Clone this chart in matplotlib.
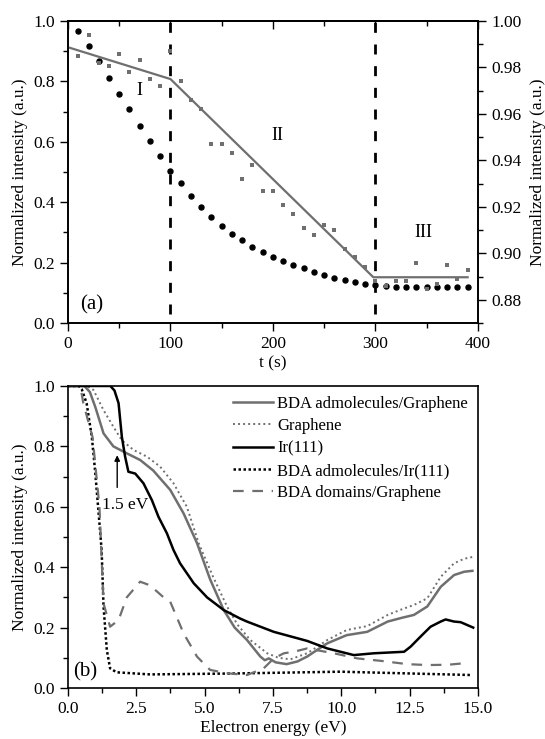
import numpy as np
import matplotlib
matplotlib.use("Agg")
import matplotlib.pyplot as plt
from matplotlib.ticker import MultipleLocator, FormatStrFormatter, NullFormatter

plt.rcParams['font.family'] = ['Liberation Serif', 'DejaVu Serif']
plt.rcParams['font.size'] = 12.5

# ---- panel (a) data ----
t_pts = [10, 20, 30, 40, 50, 60, 70, 80, 90, 100, 110, 120, 130, 140, 150, 160, 170, 180, 190,
         200, 210, 220, 230, 240, 250, 260, 270, 280, 290, 300, 310, 320, 330, 340, 350, 360,
         370, 380, 390]
circles = [0.968, 0.918, 0.866, 0.811, 0.759, 0.708, 0.653, 0.603, 0.553, 0.504, 0.463, 0.420,
           0.384, 0.350, 0.320, 0.295, 0.274, 0.252, 0.235, 0.220, 0.205, 0.191, 0.181, 0.169,
           0.159, 0.150, 0.141, 0.136, 0.129, 0.125, 0.121, 0.120, 0.120, 0.118, 0.118, 0.120,
           0.120, 0.120, 0.120]
squares = [0.985, 0.994, 0.982, 0.9805, 0.986, 0.978, 0.983, 0.975, 0.972, 0.987, 0.974, 0.966,
           0.962, 0.947, 0.947, 0.943, 0.932, 0.938, 0.927, 0.927, 0.921, 0.917, 0.911, 0.908,
           0.912, 0.910, 0.902, 0.8985, 0.894, 0.888, 0.886, 0.888, 0.888, 0.896, 0.8845, 0.887,
           0.895, 0.889, 0.893]
fit_t = [0, 100, 298, 390]
fit_v = [0.9887, 0.975, 0.8897, 0.8897]

# ---- panel (b) data ----
bda_gr_e = [0, 0.6, 0.8, 1.0, 1.3, 1.66, 2.15, 2.64, 3.12, 3.74, 4.23, 4.72, 5.2, 5.7, 6.1, 6.55,
            7.04, 7.2, 7.35, 7.6, 8.0, 8.4, 8.75, 9.1, 9.49, 10.2, 10.95, 11.7, 12.2, 12.66, 13.15,
            13.64, 14.13, 14.5, 14.8]
bda_gr_v = [1.0, 1.0, 0.98, 0.93, 0.843, 0.80, 0.777, 0.755, 0.72, 0.656, 0.578, 0.48, 0.36, 0.258,
            0.20, 0.159, 0.104, 0.092, 0.098, 0.085, 0.079, 0.088, 0.104, 0.125, 0.148, 0.175,
            0.186, 0.22, 0.232, 0.242, 0.27, 0.335, 0.374, 0.385, 0.388]
gr_e = [0, 0.7, 0.93, 1.3, 1.66, 1.97, 2.4, 2.89, 3.37, 3.86, 4.35, 4.78, 5.3, 5.82, 6.2, 6.67, 7.29,
        7.7, 8.14, 8.75, 9.1, 9.49, 10.2, 10.95, 11.7, 12.2, 12.66, 13.15, 13.64, 14.13, 14.5, 14.86]
gr_v = [1.0, 1.0, 0.987, 0.92, 0.865, 0.82, 0.788, 0.766, 0.733, 0.678, 0.60, 0.48, 0.37, 0.27,
        0.21, 0.159, 0.115, 0.10, 0.095, 0.115, 0.135, 0.159, 0.192, 0.205, 0.242, 0.26, 0.275,
        0.297, 0.368, 0.413, 0.428, 0.435]
ir_e = [0, 1.55, 1.7, 1.85, 1.97, 2.09, 2.21, 2.46, 2.76, 3.07, 3.31, 3.62, 3.86, 4.1, 4.6, 5.09,
        5.7, 6.3, 6.55, 7.53, 8.75, 9.49, 10.46, 11.2, 12.3, 12.54, 12.9, 13.27, 13.64, 13.82,
        14.13, 14.37, 14.83]
ir_v = [1.0, 1.0, 0.985, 0.943, 0.832, 0.766, 0.716, 0.71, 0.678, 0.622, 0.567, 0.512, 0.457,
        0.413, 0.347, 0.30, 0.258, 0.23, 0.22, 0.186, 0.156, 0.131, 0.109, 0.115, 0.12, 0.137,
        0.17, 0.203, 0.22, 0.227, 0.22, 0.218, 0.20]
bda_ir_e = [0, 0.4, 0.5, 0.68, 0.87, 0.99, 1.11, 1.23, 1.3, 1.42, 1.54, 1.78, 3.0, 6.0, 9.97, 14.74]
bda_ir_v = [1.0, 1.0, 0.99, 0.943, 0.832, 0.72, 0.59, 0.457, 0.27, 0.126, 0.065, 0.052, 0.045,
            0.048, 0.054, 0.043]
dom_e = [0, 0.45, 0.56, 0.9, 1.15, 1.3, 1.54, 1.85, 2.15, 2.64, 3.0, 3.5, 3.74, 4.23, 4.72, 5.2, 5.8,
         6.55, 7.16, 7.53, 7.9, 8.26, 8.75, 9.73, 10.59, 11.44, 12.42, 13.15, 13.9, 14.5]
dom_v = [1.0, 1.0, 0.943, 0.83, 0.6, 0.28, 0.203, 0.225, 0.30, 0.352, 0.34, 0.30, 0.286, 0.181,
         0.104, 0.06, 0.049, 0.043, 0.065, 0.098, 0.115, 0.12, 0.131, 0.115, 0.098, 0.09, 0.079,
         0.076, 0.077, 0.082]

GRAY = '#6f6f6f'

fig = plt.figure(figsize=(5.45, 7.39), dpi=100)
ax = fig.add_axes([0.1248, 0.5629, 0.752, 0.4087])
ax2 = ax.twinx()

# (a)
ax.plot(t_pts, circles, 'o', color='black', markersize=3.6, zorder=3)
ax2.plot(t_pts, squares, 's', color=GRAY, markersize=3.4, markeredgewidth=0)
ax2.plot(fit_t, fit_v, '-', color=GRAY, linewidth=1.6)
for tv in (100, 300):
    ax.axvline(tv, ymin=0.03, ymax=1.0, color='black', linewidth=2,
               linestyle=(0, (3.6, 4.2)))
ax.text(70, 0.77, 'I', ha='center', va='center', fontsize=13)
ax.text(204, 0.62, 'II', ha='center', va='center', fontsize=13)
ax.text(347, 0.30, 'III', ha='center', va='center', fontsize=13)
ax.text(23, 0.06, '(a)', ha='center', va='center', fontsize=15)

ax.set_xlim(0, 400)
ax.set_ylim(0, 1.0)
ax2.set_ylim(0.87, 1.0)
ax.xaxis.set_major_locator(MultipleLocator(100))
ax.xaxis.set_minor_locator(MultipleLocator(50))
ax.yaxis.set_major_locator(MultipleLocator(0.2))
ax.yaxis.set_minor_locator(MultipleLocator(0.1))
ax.yaxis.set_major_formatter(FormatStrFormatter('%.1f'))
ax2.yaxis.set_major_locator(MultipleLocator(0.02))
ax2.yaxis.set_minor_locator(MultipleLocator(0.01))
ax2.yaxis.set_major_formatter(FormatStrFormatter('%.2f'))
ax.tick_params(which='both', direction='out')
ax2.tick_params(axis='y', which='both', direction='out')
for a in (ax, ax2):
    a.tick_params(which='major', length=6, width=1)
    a.tick_params(which='minor', length=3.5, width=1)

# top axis ticks point inward
top = ax.secondary_xaxis('top')
top.xaxis.set_major_locator(MultipleLocator(100))
top.xaxis.set_minor_locator(MultipleLocator(50))
top.xaxis.set_major_formatter(NullFormatter())
top.tick_params(which='both', direction='in', width=1)
top.tick_params(which='major', length=6)
top.tick_params(which='minor', length=3.5)

ax.set_xlabel('t (s)', labelpad=2)
ax.set_ylabel('Normalized intensity (a.u.)', labelpad=4)
ax2.set_ylabel('Normalized intensity (a.u.)', labelpad=6)

# (b)
bx = fig.add_axes([0.1248, 0.069, 0.752, 0.4087])
bx.plot(bda_gr_e, bda_gr_v, '-', color=GRAY, linewidth=1.8, label='BDA admolecules/Graphene')
bx.plot(gr_e, gr_v, linestyle=(0, (1, 1.6)), color=GRAY, linewidth=1.4, label='Graphene')
bx.plot(ir_e, ir_v, '-', color='black', linewidth=1.8, label='Ir(111)')
bx.plot(bda_ir_e, bda_ir_v, linestyle=(0, (1, 1)), color='black', linewidth=1.8,
        label='BDA admolecules/Ir(111)')
bx.plot(dom_e, dom_v, linestyle=(0, (4.8, 3.9)), color=GRAY, linewidth=1.6,
        label='BDA domains/Graphene')
bx.annotate('', xy=(1.8, 0.78), xytext=(1.8, 0.655),
            arrowprops=dict(arrowstyle='-|>', color='black', lw=1, mutation_scale=8))
bx.text(2.1, 0.606, '1.5 eV', ha='center', va='center', fontsize=12.5)
bx.text(0.64, 0.054, '(b)', ha='center', va='center', fontsize=15)

bx.set_xlim(0, 15)
bx.set_ylim(0, 1.0)
bx.xaxis.set_major_locator(MultipleLocator(2.5))
bx.xaxis.set_minor_locator(MultipleLocator(1.25))
bx.xaxis.set_major_formatter(FormatStrFormatter('%.1f'))
bx.yaxis.set_major_locator(MultipleLocator(0.2))
bx.yaxis.set_minor_locator(MultipleLocator(0.1))
bx.yaxis.set_major_formatter(FormatStrFormatter('%.1f'))
bx.tick_params(which='both', direction='out', top=False, right=False)
bx.tick_params(which='major', length=6, width=1)
bx.tick_params(which='minor', length=3.5, width=1)
bx.set_xlabel('Electron energy (eV)', labelpad=2)
bx.set_ylabel('Normalized intensity (a.u.)', labelpad=4)
bx.legend(loc='upper right', frameon=False, fontsize=12, handlelength=2.4,
          handletextpad=0.25, labelspacing=0.38, borderaxespad=0.0, borderpad=0.6)

for a in (ax, ax2, bx):
    for s in a.spines.values():
        s.set_linewidth(1.2)
top.spines['top'].set_linewidth(1.2)

fig.savefig('out.png', dpi=100)
